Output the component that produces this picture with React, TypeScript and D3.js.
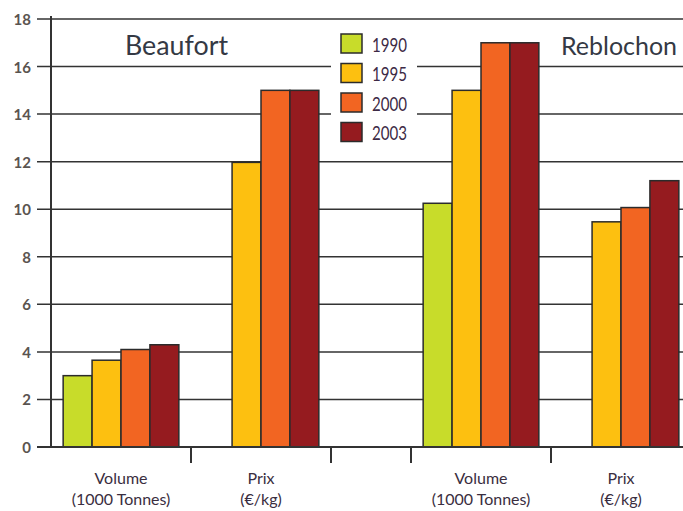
import * as d3 from "d3";

const years = ["1990", "1995", "2000", "2003"];
const cheeses = ["Beaufort", "Reblochon"];
const measures = ["Volume", "Prix"];
const measureLabels = [
  ["Volume", "(1000 Tonnes)"],
  ["Prix", "(€/kg)"],
];
const beaufortVolume = [3.0, 3.65, 4.1, 4.3];
const beaufortPrix = [null, 11.97, 15, 15];
const reblochonVolume = [10.25, 15, 17, 17];
const reblochonPrix = [null, 9.47, 10.07, 11.2];
const yTicks = [0, 2, 4, 6, 8, 10, 12, 14, 16, 18];
const colors = ["#c8dc2a", "#fdc010", "#f26522", "#951b1f"];

const series: { [key: string]: (number | null)[][] } = {
  Beaufort: [beaufortVolume, beaufortPrix],
  Reblochon: [reblochonVolume, reblochonPrix],
};

export default function App() {
  const width = 683;
  const height = 511;

  const y = d3.scaleLinear().domain([0, 18]).range([447, 19]);

  // two panels of two bands each, with a gap between them
  const xPanel = d3
    .scaleBand()
    .domain(cheeses)
    .range([51, 691])
    .paddingInner(80 / 360);

  const xMeasure = d3
    .scaleBand()
    .domain(measures)
    .range([0, xPanel.bandwidth()]);

  const xYear = d3
    .scaleBand()
    .domain(years)
    .range([0, xMeasure.bandwidth()])
    .paddingOuter(0.42);

  const legendY = d3.scaleBand().domain(years).range([30, 148]);

  const sepX: number[] = [];
  cheeses.forEach((c) => {
    const p = xPanel(c)!;
    sepX.push(p + xMeasure.bandwidth(), p + xPanel.bandwidth());
    if (c !== cheeses[0]) sepX.push(p);
  });

  return (
    <svg
      width={width}
      height={height}
      style={{ position: "absolute", top: 0, left: 0, background: "white" }}
      fontFamily="Lato, 'Open Sans', sans-serif"
    >
      {/* gridlines + ticks */}
      {yTicks.map((t) => (
        <g key={t}>
          <line x1={37} x2={width} y1={y(t)} y2={y(t)} stroke="#333" strokeWidth={1.5} />
          <text
            x={31}
            y={y(t)}
            textAnchor="end"
            dominantBaseline="central"
            fontSize={15}
            fontWeight={700}
            fill="#5a5450"
          >
            {t}
          </text>
        </g>
      ))}

      {/* legend background breaks the gridlines */}
      <rect x={331} y={26} width={86} height={124} fill="white" />

      {/* bars */}
      {cheeses.map((c) =>
        measures.map((m, mi) =>
          years.map((yr, yi) => {
            const v = series[c][mi][yi];
            if (v === null) return null;
            const x = xPanel(c)! + xMeasure(m)! + xYear(yr)!;
            return (
              <rect
                key={c + m + yr}
                x={x}
                y={y(v)}
                width={xYear.bandwidth()}
                height={y(0) - y(v)}
                fill={colors[yi]}
                stroke="#2b2b2b"
                strokeWidth={1.5}
              />
            );
          })
        )
      )}

      {/* y axis */}
      <line x1={51} x2={51} y1={16} y2={448} stroke="#333" strokeWidth={2} />
      <line x1={37} x2={width} y1={y(0)} y2={y(0)} stroke="#333" strokeWidth={2} />

      {/* category separators */}
      {sepX.map((sx, i) => (
        <line key={i} x1={sx} x2={sx} y1={y(0)} y2={463} stroke="#333" strokeWidth={2} />
      ))}

      {/* category labels */}
      {cheeses.map((c) =>
        measures.map((m, mi) => {
          const cx = xPanel(c)! + xMeasure(m)! + xMeasure.bandwidth() / 2;
          return (
            <text
              key={c + m}
              x={cx}
              textAnchor="middle"
              fontSize={16}
              fill="#3a2e40"
            >
              <tspan x={cx} y={484}>{measureLabels[mi][0]}</tspan>
              <tspan x={cx} y={505}>{measureLabels[mi][1]}</tspan>
            </text>
          );
        })
      )}

      {/* panel titles */}
      <text x={125} y={55} fontSize={26} fill="#343944" textLength={103} lengthAdjust="spacingAndGlyphs">
        {cheeses[0]}
      </text>
      <text x={561} y={55} fontSize={24.5} fill="#343944" textLength={116} lengthAdjust="spacingAndGlyphs">
        {cheeses[1]}
      </text>

      {/* legend */}
      {years.map((yr, i) => (
        <g key={yr}>
          <rect
            x={341}
            y={legendY(yr)! + 4}
            width={21}
            height={19}
            fill={colors[i]}
            stroke="#2b2b2b"
            strokeWidth={1.5}
          />
          <text
            x={372}
            y={legendY(yr)! + 14}
            dominantBaseline="central"
            fontSize={19}
            fill="#3d2a45"
            textLength={35}
            lengthAdjust="spacingAndGlyphs"
          >
            {yr}
          </text>
        </g>
      ))}
    </svg>
  );
}
